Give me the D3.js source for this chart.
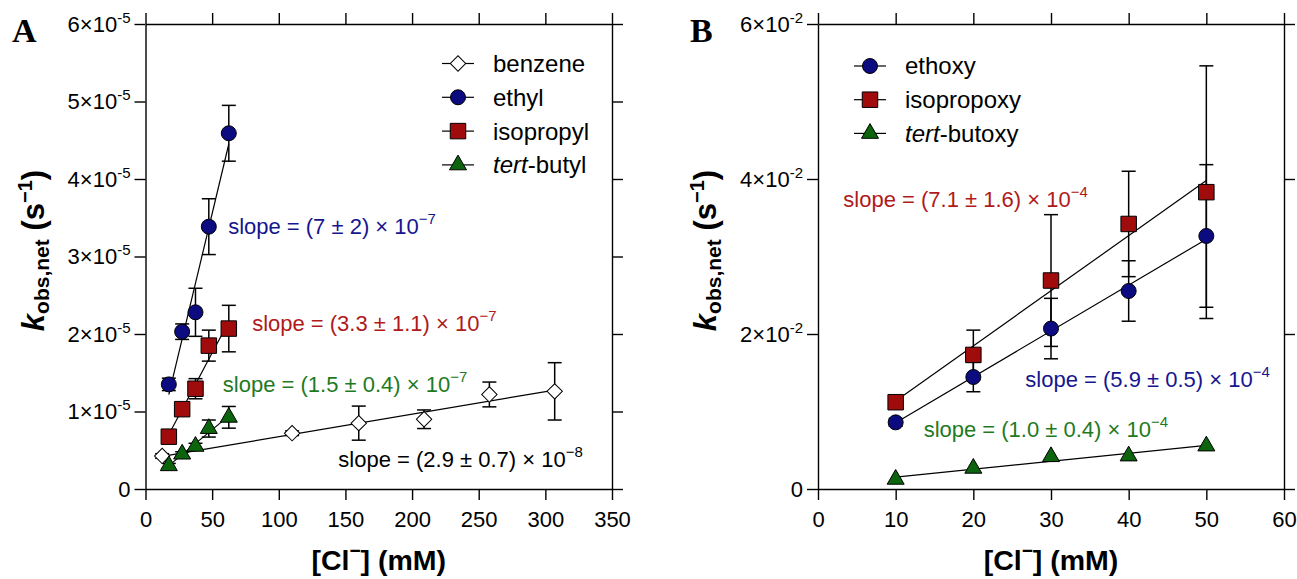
<!DOCTYPE html>
<html>
<head>
<meta charset="utf-8">
<script src="https://cdn.jsdelivr.net/npm/d3@7/dist/d3.min.js"></script>
<style>
  body { margin: 0; background: #fff; }
  svg { font-family: "Liberation Sans", Arial, sans-serif; }
</style>
</head>
<body>
<svg id="chart" width="1297" height="579"></svg>
<script>
// ---- panel A data: kobs,net (s^-1) vs [Cl-] (mM)
const clAlkyl = [17.5, 27.5, 37.5, 47.5, 62.5];
const clBenzene = [12.5, 110, 160, 209, 258, 307];
const benzeneK = [0.426e-5, 0.72e-5, 0.85e-5, 0.90e-5, 1.22e-5, 1.26e-5];
const benzeneErr = [0.03e-5, 0.03e-5, 0.22e-5, 0.12e-5, 0.16e-5, 0.37e-5];
const ethylK = [1.35e-5, 2.03e-5, 2.28e-5, 3.385e-5, 4.59e-5];
const ethylErr = [0.08e-5, 0.10e-5, 0.31e-5, 0.36e-5, 0.36e-5];
const isopropylK = [0.675e-5, 1.03e-5, 1.294e-5, 1.85e-5, 2.07e-5];
const isopropylErr = [0.04e-5, 0.04e-5, 0.13e-5, 0.20e-5, 0.30e-5];
const tertButylK = [0.30e-5, 0.45e-5, 0.55e-5, 0.78e-5, 0.925e-5];
const tertButylErr = [0.03e-5, 0.03e-5, 0.04e-5, 0.11e-5, 0.14e-5];

// ---- panel B data
const clAlkoxy = [10, 20, 30, 40, 50];
const ethoxyK = [0.86e-2, 1.445e-2, 2.07e-2, 2.555e-2, 3.265e-2];
const ethoxyErr = [0.05e-2, 0.19e-2, 0.39e-2, 0.39e-2, 0.92e-2];
const isopropoxyK = [1.12e-2, 1.73e-2, 2.69e-2, 3.42e-2, 3.83e-2];
const isopropoxyErr = [0.05e-2, 0.32e-2, 0.85e-2, 0.68e-2, 1.63e-2];
const tertButoxyK = [0.125e-2, 0.267e-2, 0.417e-2, 0.426e-2, 0.555e-2];
const tertButoxyErr = [0, 0, 0, 0, 0];

// tick values
const xTicksA = [0, 50, 100, 150, 200, 250, 300, 350];
const yTicksA = [0, 1e-5, 2e-5, 3e-5, 4e-5, 5e-5, 6e-5];
const yLabelsA = ["0", "1×10|-5", "2×10|-5", "3×10|-5", "4×10|-5", "5×10|-5", "6×10|-5"];
const xTicksB = [0, 10, 20, 30, 40, 50, 60];
const yTicksB = [0, 2e-2, 4e-2, 6e-2];
const yLabelsB = ["0", "2×10|-2", "4×10|-2", "6×10|-2"];

// slope labels: [text, exponent]
const slopeTexts = {
  benzene: ["slope = (2.9 ± 0.7) × 10", "−8"],
  ethyl: ["slope = (7 ± 2) × 10", "−7"],
  isopropyl: ["slope = (3.3 ± 1.1) × 10", "−7"],
  tertButyl: ["slope = (1.5 ± 0.4) × 10", "−7"],
  ethoxy: ["slope = (5.9 ± 0.5) × 10", "−4"],
  isopropoxy: ["slope = (7.1 ± 1.6) × 10", "−4"],
  tertButoxy: ["slope = (1.0 ± 0.4) × 10", "−4"]
};

const BLUE = "#0c0c80", RED = "#a00c0c", GREEN = "#0c640c";
const BLUE_T = "#16168f", RED_T = "#b01a1a", GREEN_T = "#1f7a1f";

const svg = d3.select("#chart");

function linFit(xs, ys) {
  const mx = d3.mean(xs), my = d3.mean(ys);
  let sxy = 0, sxx = 0;
  xs.forEach((x, i) => { sxy += (x - mx) * (ys[i] - my); sxx += (x - mx) * (x - mx); });
  const m = sxy / sxx;
  return { m, b: my - m * mx };
}

function marker(shape) {
  if (shape === "circle") return d3.symbol(d3.symbolCircle, Math.PI * 7.5 * 7.5)();
  if (shape === "square") return d3.symbol(d3.symbolSquare, 240)();
  if (shape === "triangle") return d3.symbol(d3.symbolTriangle, 125)();
  return d3.symbol(d3.symbolSquare, 118)(); // diamond (rotated)
}

function drawMarker(g, shape, fill, cx, cy) {
  g.append("path")
    .attr("d", marker(shape))
    .attr("transform", `translate(${cx},${cy})` + (shape === "diamond" ? " rotate(45)" : ""))
    .attr("fill", fill)
    .attr("stroke", "#000")
    .attr("stroke-width", 1);
}

function drawPanel(p) {
  const g = svg.append("g");
  const x = d3.scaleLinear().domain(p.xDomain).range([p.left, p.right]);
  const y = d3.scaleLinear().domain(p.yDomain).range([p.bottom, p.top]);

  // axes on four sides
  const ax = [
    [d3.axisBottom(x).tickValues(p.xTicks), `translate(0,${p.bottom})`],
    [d3.axisTop(x).tickValues(p.xTicks).tickFormat(""), `translate(0,${p.top})`],
    [d3.axisLeft(y).tickValues(p.yTicks), `translate(${p.left},0)`],
    [d3.axisRight(y).tickValues(p.yTicks).tickFormat(""), `translate(${p.right},0)`]
  ];
  const axisGroups = ax.map(([a, tr]) => {
    const ag = g.append("g").attr("transform", tr)
      .call(a.tickSize(11).tickSizeOuter(0).tickPadding(11));
    ag.selectAll("path,line").attr("stroke", "#000").attr("stroke-width", 1.4);
    ag.selectAll("text").attr("font-size", 22).attr("fill", "#000")
      .attr("font-family", "Liberation Sans, Arial, sans-serif");
    return ag;
  });
  // y tick labels with superscript exponents
  axisGroups[2].selectAll(".tick text").each(function (d, i) {
    const t = d3.select(this).text("").attr("x", -15).attr("dy", "0.34em");
    const parts = p.yLabels[i].split("|");
    t.append("tspan").text(parts[0]);
    if (parts[1]) t.append("tspan").attr("font-size", 15).attr("dy", -9).text(parts[1]);
  });

  // fit lines
  p.series.forEach(s => {
    const f = linFit(s.x, s.y);
    const x0 = d3.min(s.x), x1 = d3.max(s.x);
    g.append("line")
      .attr("x1", x(x0)).attr("y1", y(f.m * x0 + f.b))
      .attr("x2", x(x1)).attr("y2", y(f.m * x1 + f.b))
      .attr("stroke", "#000").attr("stroke-width", 1.2);
  });
  // error bars
  p.series.forEach(s => {
    s.y.forEach((v, i) => {
      if (!s.err[i]) return;
      const cx = x(s.x[i]), y0 = y(v - s.err[i]), y1 = y(v + s.err[i]);
      const eg = g.append("g").attr("stroke", "#000").attr("stroke-width", 1.5);
      eg.append("line").attr("x1", cx).attr("x2", cx).attr("y1", y0).attr("y2", y1);
      eg.append("line").attr("x1", cx - 7).attr("x2", cx + 7).attr("y1", y0).attr("y2", y0);
      eg.append("line").attr("x1", cx - 7).attr("x2", cx + 7).attr("y1", y1).attr("y2", y1);
    });
  });
  // markers
  p.series.forEach(s => {
    s.y.forEach((v, i) => drawMarker(g, s.shape, s.fill, x(s.x[i]), y(v)));
  });

  // slope annotations
  p.series.forEach(s => {
    const t = g.append("text")
      .attr("x", x(s.labelAt[0])).attr("y", y(s.labelAt[1]))
      .attr("font-size", 22).attr("fill", s.textColor);
    t.append("tspan").text(s.slope[0]);
    t.append("tspan").attr("font-size", 15).attr("dy", -10).text(s.slope[1]);
  });

  // legend
  p.legend.forEach((s, i) => {
    const ly = p.legendY + i * p.legendStep;
    g.append("line").attr("x1", p.legendX - 16).attr("x2", p.legendX + 16)
      .attr("y1", ly).attr("y2", ly).attr("stroke", "#000").attr("stroke-width", 1.2);
    drawMarker(g, s.shape, s.fill, p.legendX, ly);
    const t = g.append("text").attr("x", p.legendX + 35).attr("y", ly).attr("dy", "0.35em")
      .attr("font-size", 24).attr("fill", "#000");
    if (s.italic) {
      t.append("tspan").attr("font-style", "italic").text(s.italic);
      t.append("tspan").text(s.name);
    } else t.text(s.name);
  });

  // axis titles
  const yt = g.append("text")
    .attr("transform", `translate(${p.left - 102},${(p.top + p.bottom) / 2 - 6}) rotate(-90)`)
    .attr("text-anchor", "middle").attr("font-weight", "bold").attr("font-size", 31);
  yt.append("tspan").attr("font-style", "italic").text("k");
  yt.append("tspan").attr("font-size", 21).attr("dy", 5).text("obs,net");
  yt.append("tspan").attr("dy", -5).text(" (s");
  yt.append("tspan").attr("font-size", 20).attr("dy", -12).text("−1");
  yt.append("tspan").attr("dy", 12).text(")");

  const xt = g.append("text")
    .attr("x", (p.left + p.right) / 2).attr("y", 570)
    .attr("text-anchor", "middle").attr("font-weight", "bold").attr("font-size", 28.5);
  xt.append("tspan").text("[Cl");
  xt.append("tspan").attr("font-size", 19).attr("dy", -13).text("−");
  xt.append("tspan").attr("dy", 13).text("] (mM)");

  // panel letter
  g.append("text").attr("x", p.letterX).attr("y", 42)
    .attr("font-family", "Liberation Serif, Times New Roman, serif")
    .attr("font-weight", "bold").attr("font-size", 34).text(p.letter);
}

const benzeneS = { x: clBenzene, y: benzeneK, err: benzeneErr, shape: "diamond", fill: "#fff",
  textColor: "#000", slope: slopeTexts.benzene, labelAt: [144.7, 0.288e-5], name: "benzene" };
const ethylS = { x: clAlkyl, y: ethylK, err: ethylErr, shape: "circle", fill: BLUE,
  textColor: BLUE_T, slope: slopeTexts.ethyl, labelAt: [62, 3.29e-5], name: "ethyl" };
const isopropylS = { x: clAlkyl, y: isopropylK, err: isopropylErr, shape: "square", fill: RED,
  textColor: RED_T, slope: slopeTexts.isopropyl, labelAt: [80, 2.04e-5], name: "isopropyl" };
const tertButylS = { x: clAlkyl, y: tertButylK, err: tertButylErr, shape: "triangle", fill: GREEN,
  textColor: GREEN_T, slope: slopeTexts.tertButyl, labelAt: [58, 1.255e-5], name: "-butyl", italic: "tert" };

drawPanel({
  letter: "A", letterX: 12,
  left: 145.5, right: 612, top: 24, bottom: 489,
  xDomain: [0, 350], yDomain: [0, 6e-5],
  xTicks: xTicksA, yTicks: yTicksA, yLabels: yLabelsA,
  series: [benzeneS, ethylS, isopropylS, tertButylS],
  legend: [benzeneS, ethylS, isopropylS, tertButylS],
  legendX: 458, legendY: 63.5, legendStep: 33.8
});

const ethoxyS = { x: clAlkoxy, y: ethoxyK, err: ethoxyErr, shape: "circle", fill: BLUE,
  textColor: BLUE_T, slope: slopeTexts.ethoxy, labelAt: [26.7, 1.32e-2], name: "ethoxy" };
const isopropoxyS = { x: clAlkoxy, y: isopropoxyK, err: isopropoxyErr, shape: "square", fill: RED,
  textColor: RED_T, slope: slopeTexts.isopropoxy, labelAt: [3.26, 3.64e-2], name: "isopropoxy" };
const tertButoxyS = { x: clAlkoxy, y: tertButoxyK, err: tertButoxyErr, shape: "triangle", fill: GREEN,
  textColor: GREEN_T, slope: slopeTexts.tertButoxy, labelAt: [13.6, 0.675e-2], name: "-butoxy", italic: "tert" };

drawPanel({
  letter: "B", letterX: 690,
  left: 818, right: 1284, top: 24, bottom: 489,
  xDomain: [0, 60], yDomain: [0, 6e-2],
  xTicks: xTicksB, yTicks: yTicksB, yLabels: yLabelsB,
  series: [tertButoxyS, ethoxyS, isopropoxyS],
  legend: [ethoxyS, isopropoxyS, tertButoxyS],
  legendX: 870, legendY: 66, legendStep: 33.7
});
</script>
</body>
</html>
